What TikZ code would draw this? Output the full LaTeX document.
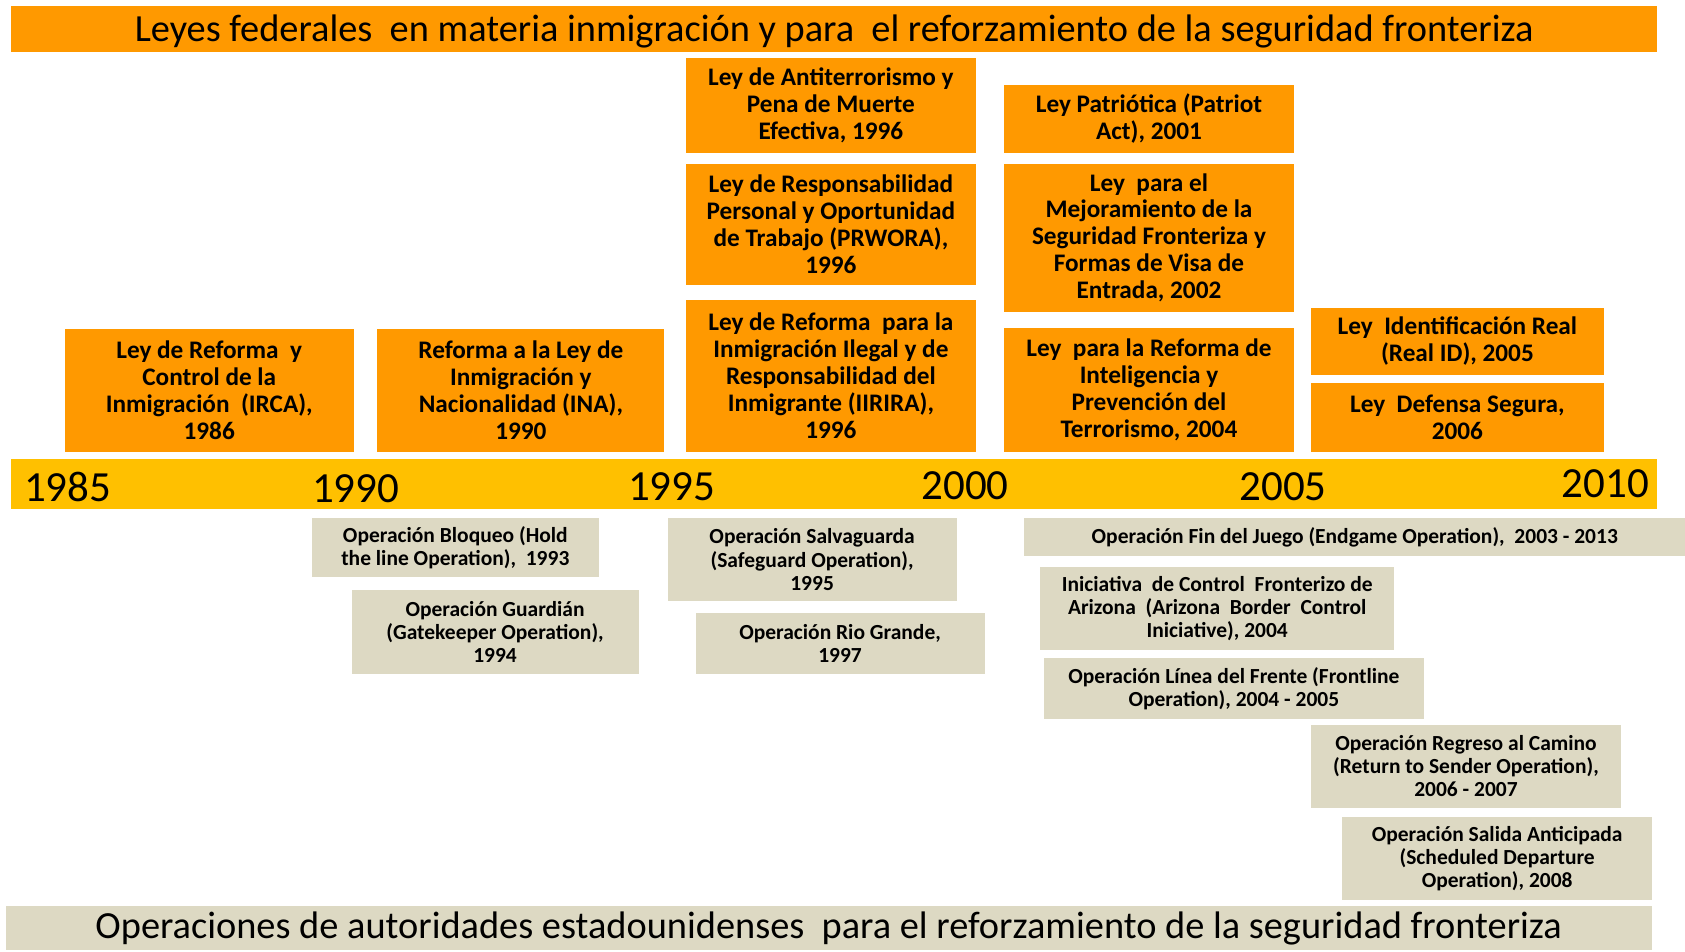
\documentclass[tikz,border=0pt]{standalone}
\usepackage{fontspec}
\setmainfont{Carlito}
\usetikzlibrary{positioning}
\definecolor{LawOrange}{HTML}{FF9900}
\definecolor{AxisGold}{HTML}{FFC000}
\definecolor{OpTan}{HTML}{DDD9C3}
\tikzset{
  law/.style={fill=LawOrange,align=center,inner sep=0pt,anchor=north west,font=\bfseries\fontsize{23.5}{25}\selectfont},
  oper/.style={fill=OpTan,align=center,inner sep=0pt,anchor=north west,font=\bfseries\fontsize{20}{21.5}\selectfont},
  year/.style={font=\fontsize{40}{40}\selectfont},
  banner/.style={anchor=north west,inner sep=0pt,font=\fontsize{35.7}{36}\selectfont},
}
\begin{document}
\begin{tikzpicture}[x=1pt,y=-1pt]
\useasboundingbox (0,0) rectangle (1568,885);
% banners and time axis
\node[banner, fill=LawOrange, minimum width=1532pt, minimum height=43pt, text depth=1pt] (leyes) at (10,5) {Leyes federales~ en materia inmigración y para~ el reforzamiento de la seguridad fronteriza};
\node[banner, fill=AxisGold, minimum width=1532pt, minimum height=46pt] (eje) at (10,427) {};
\node[banner, fill=OpTan, minimum width=1532pt, minimum height=41pt] (operaciones) at (5,843) {Operaciones de autoridades estadounidenses~ para el reforzamiento de la seguridad fronteriza};
\foreach \yr/\xx/\yy in {1985/63/453, 1990/331/455, 1995/625/453, 2000/898/452, 2005/1194/453, 2010/1494/450}
  \node[year] (y\yr) at (\xx,\yy) {\yr};
% federal laws
\node[law, minimum width=269pt, minimum height=114pt] (irca) at (60,306) {Ley de Reforma~ y\\Control de la\\Inmigración~ (IRCA),\\1986};
\node[law, minimum width=267pt, minimum height=114pt] (ina) at (351,306) {Reforma a la Ley de\\Inmigración y\\Nacionalidad (INA),\\1990};
\node[law, minimum width=270pt, minimum height=88pt] (antiterror) at (638,54) {Ley de Antiterrorismo y\\Pena de Muerte\\Efectiva, 1996};
\node[law, minimum width=270pt, minimum height=113pt] (prwora) at (638,152) {Ley de Responsabilidad\\Personal y Oportunidad\\de Trabajo (PRWORA),\\1996};
\node[law, minimum width=270pt, minimum height=141pt] (iirira) at (638,279) {Ley de Reforma~ para la\\Inmigración Ilegal y de\\Responsabilidad del\\Inmigrante (IIRIRA),\\1996};
\node[law, minimum width=270pt, minimum height=63pt] (patriot) at (934,79) {Ley Patriótica (Patriot\\Act), 2001};
\node[law, minimum width=270pt, minimum height=138pt] (visa) at (934,152) {Ley~ para el\\Mejoramiento de la\\Seguridad Fronteriza y\\Formas de Visa de\\Entrada, 2002};
\node[law, minimum width=270pt, minimum height=115pt] (irtpa) at (934,305) {Ley~ para la Reforma de\\Inteligencia y\\Prevención del\\Terrorismo, 2004};
\node[law, minimum width=272pt, minimum height=63pt] (realid) at (1220,286) {Ley~ Identificación Real\\(Real ID), 2005};
\node[law, minimum width=272pt, minimum height=64pt] (defensa) at (1220,356) {Ley~ Defensa Segura,\\2006};
% border operations
\node[oper, minimum width=267pt, minimum height=55pt] (bloqueo) at (290,482) {Operación Bloqueo (Hold\\the line Operation),~ 1993};
\node[oper, minimum width=267pt, minimum height=78pt] (guardian) at (327,549) {Operación Guardián\\(Gatekeeper Operation),\\1994};
\node[oper, minimum width=269pt, minimum height=77pt] (salvaguarda) at (621,482) {Operación Salvaguarda\\(Safeguard Operation),\\1995};
\node[oper, minimum width=269pt, minimum height=57pt] (riogrande) at (647,570) {Operación Rio Grande,\\1997};
\node[oper, minimum width=615pt, minimum height=35pt] (endgame) at (953,482) {Operación Fin del Juego (Endgame Operation),~ 2003 - 2013};
\node[oper, minimum width=329pt, minimum height=78pt] (arizona) at (968,527) {Iniciativa~ de Control~ Fronterizo de\\Arizona~ (Arizona~ Border~ Control\\Iniciative), 2004};
\node[oper, minimum width=354pt, minimum height=57pt] (frontline) at (971,612) {Operación Línea del Frente (Frontline\\Operation), 2004 - 2005};
\node[oper, minimum width=288pt, minimum height=78pt] (sender) at (1220,674) {Operación Regreso al Camino\\(Return to Sender Operation),\\2006 - 2007};
\node[oper, minimum width=288pt, minimum height=77pt] (salida) at (1249,760) {Operación Salida Anticipada\\(Scheduled Departure\\Operation), 2008};
\end{tikzpicture}
\end{document}
